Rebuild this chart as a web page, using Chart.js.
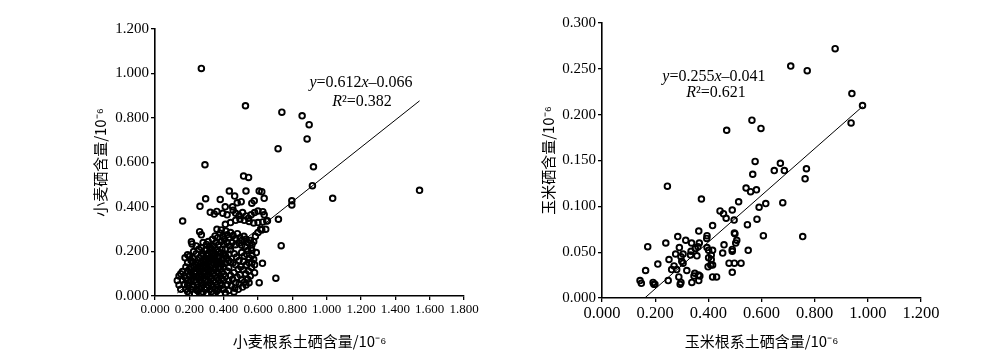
<!DOCTYPE html>
<html>
<head>
<meta charset="utf-8">
<script src="https://cdn.jsdelivr.net/npm/chart.js@4"></script>
<style>
  body { margin: 0; background: #fff; width: 1000px; height: 363px; overflow: hidden; position: relative; }
  canvas { position: absolute; top: 0; }
  #chart-wheat { left: 0; }
  #chart-corn { left: 500px; }
</style>
</head>
<body>
<canvas id="chart-wheat" width="500" height="363"></canvas>
<canvas id="chart-corn" width="500" height="363"></canvas>
<script>
// ─── Data: [root soil Se, grain Se] (10^-6) ────────────────────
const wheatOutliers = [
  [0.270,1.023],[0.291,0.590],[0.527,0.855],[0.739,0.826],[0.857,0.810],[0.898,0.770],[0.886,0.706],
  [0.717,0.662],[0.923,0.581],[0.917,0.496],[1.541,0.475],[1.035,0.439],[0.797,0.428],[0.797,0.409],
  [0.719,0.345],[0.735,0.226],[0.704,0.080],[0.607,0.060],[0.626,0.147],[0.651,0.337],[0.636,0.439],
  [0.622,0.469],[0.628,0.379],[0.636,0.365],[0.628,0.333],[0.622,0.297],[0.161,0.337],[0.295,0.437],
  [0.262,0.403]
];
const wheatUpper = [
  [0.516,0.539],[0.545,0.533],[0.433,0.472],[0.530,0.472],[0.607,0.472],[0.464,0.449],[0.380,0.434],
  [0.409,0.401],[0.452,0.401],[0.479,0.419],[0.502,0.424],[0.564,0.417],[0.578,0.428],[0.322,0.376],
  [0.345,0.368],[0.360,0.380],[0.395,0.372],[0.420,0.365],[0.455,0.385],[0.470,0.372],[0.490,0.362],
  [0.510,0.375],[0.530,0.360],[0.545,0.350],[0.560,0.365],[0.580,0.375],[0.600,0.382],[0.655,0.338],
  [0.600,0.330],[0.575,0.328],[0.548,0.335],[0.520,0.340],[0.495,0.345],[0.470,0.340],[0.440,0.330],
  [0.410,0.322],[0.361,0.300],[0.386,0.297],[0.413,0.292],[0.260,0.289],[0.270,0.275]
];
const wheatMid = [
  [0.212,0.244],[0.216,0.234],[0.240,0.225],[0.255,0.210],[0.280,0.240],[0.300,0.232],[0.318,0.222],
  [0.335,0.255],[0.350,0.270],[0.365,0.262],[0.380,0.282],[0.395,0.268],[0.405,0.255],[0.420,0.275],
  [0.430,0.262],[0.440,0.285],[0.455,0.272],[0.468,0.258],[0.480,0.280],[0.495,0.262],[0.505,0.250],
  [0.518,0.268],[0.530,0.255],[0.540,0.240],[0.555,0.250],[0.565,0.232],[0.575,0.245],[0.585,0.268],
  [0.600,0.285],[0.615,0.300],[0.645,0.300],[0.560,0.215],[0.540,0.205],[0.525,0.222],[0.505,0.228],
  [0.490,0.238],[0.470,0.230],[0.450,0.240],[0.435,0.225],[0.420,0.240],[0.400,0.232],[0.385,0.245],
  [0.370,0.230],[0.355,0.240],[0.340,0.225],[0.325,0.212],[0.310,0.245],[0.290,0.205],[0.270,0.218],
  [0.225,0.200],[0.190,0.185],[0.200,0.178],[0.175,0.172]
];
const wheatFlank = [
  [0.462,0.190],[0.475,0.175],[0.490,0.160],[0.505,0.195],[0.520,0.180],[0.535,0.188],[0.550,0.170],
  [0.565,0.182],[0.548,0.150],[0.532,0.140],[0.515,0.155],[0.500,0.132],[0.485,0.120],[0.470,0.140],
  [0.455,0.150],[0.562,0.128],[0.545,0.112],[0.528,0.100],[0.512,0.118],[0.495,0.095],[0.478,0.085],
  [0.460,0.105],[0.555,0.090],[0.540,0.075],[0.520,0.062],[0.505,0.072],[0.490,0.055],[0.470,0.060],
  [0.452,0.075],[0.445,0.045],[0.465,0.035],[0.485,0.030],[0.510,0.040],[0.530,0.050],[0.548,0.060],
  [0.565,0.150],[0.565,0.205],[0.575,0.165],[0.580,0.140],[0.580,0.105],[0.590,0.195],[0.460,0.018],
  [0.430,0.025],[0.410,0.015],[0.395,0.030]
];
const wheatCore = [
  [0.20,0.010],[0.23,0.010],[0.27,0.012],[0.30,0.010],[0.34,0.012],[0.38,0.010],
  [0.15,0.030],[0.18,0.032],[0.21,0.030],[0.24,0.028],[0.26,0.032],[0.29,0.030],[0.32,0.028],[0.35,0.032],[0.37,0.030],[0.40,0.030],
  [0.14,0.050],[0.17,0.052],[0.19,0.048],[0.22,0.050],[0.25,0.052],[0.28,0.050],[0.31,0.048],[0.33,0.052],[0.36,0.050],[0.39,0.048],[0.42,0.052],
  [0.13,0.070],[0.16,0.072],[0.19,0.070],[0.21,0.068],[0.23,0.072],[0.26,0.070],[0.29,0.068],[0.30,0.074],[0.34,0.070],[0.37,0.072],[0.40,0.070],[0.43,0.068],
  [0.14,0.090],[0.17,0.088],[0.20,0.092],[0.22,0.090],[0.24,0.088],[0.27,0.092],[0.30,0.090],[0.32,0.088],[0.35,0.092],[0.38,0.090],[0.41,0.088],[0.44,0.092],
  [0.16,0.110],[0.19,0.112],[0.21,0.108],[0.24,0.110],[0.26,0.112],[0.28,0.110],[0.31,0.108],[0.33,0.112],[0.36,0.110],[0.39,0.108],[0.42,0.112],
  [0.18,0.130],[0.21,0.128],[0.23,0.132],[0.25,0.130],[0.28,0.128],[0.30,0.132],[0.32,0.130],[0.35,0.128],[0.37,0.132],[0.40,0.130],[0.43,0.128],
  [0.19,0.150],[0.22,0.152],[0.25,0.148],[0.27,0.150],[0.29,0.152],[0.31,0.150],[0.34,0.148],[0.36,0.152],[0.38,0.150],[0.41,0.148],[0.44,0.152],
  [0.22,0.170],[0.26,0.172],[0.29,0.168],[0.31,0.170],[0.33,0.172],[0.35,0.168],[0.37,0.170],[0.40,0.172],[0.42,0.168],
  [0.24,0.190],[0.28,0.188],[0.31,0.192],[0.33,0.190],[0.35,0.188],[0.38,0.192],[0.40,0.190],[0.43,0.188],
  [0.30,0.210],[0.33,0.212],[0.36,0.208],[0.39,0.210],[0.41,0.212],[0.44,0.208],
  [0.19,0.020],[0.25,0.022],[0.28,0.018],[0.33,0.020],[0.36,0.022],
  [0.20,0.060],[0.24,0.062],[0.27,0.058],[0.32,0.060],[0.35,0.062],[0.38,0.058],
  [0.18,0.080],[0.25,0.082],[0.28,0.078],[0.33,0.080],[0.36,0.082],[0.39,0.078],
  [0.15,0.100],[0.23,0.102],[0.29,0.098],[0.34,0.100],[0.37,0.102],[0.40,0.098],
  [0.20,0.120],[0.27,0.122],[0.32,0.118],[0.35,0.120],[0.38,0.122],
  [0.24,0.140],[0.29,0.142],[0.33,0.138],[0.36,0.140],[0.39,0.142],
  [0.21,0.160],[0.28,0.162],[0.32,0.158],[0.35,0.160],[0.39,0.162],[0.43,0.158],
  [0.27,0.180],[0.30,0.182],[0.34,0.178],[0.37,0.180],[0.41,0.182],
  [0.22,0.040],[0.27,0.042],[0.30,0.038],[0.23,0.100],[0.26,0.085],[0.31,0.095],
  [0.26,0.135],[0.31,0.120],[0.30,0.160],[0.34,0.195],[0.37,0.200],[0.39,0.160]
];
const wheatPoints = [...wheatOutliers, ...wheatUpper, ...wheatMid, ...wheatFlank, ...wheatCore];
const wheatFit = [0.612, -0.066];      // slope, intercept
const wheatFitRange = [0.13, 1.541];

const cornPoints = [
  [0.877,0.272],[0.710,0.253],[0.772,0.248],[0.940,0.223],[0.980,0.210],[0.937,0.191],[0.564,0.194],
  [0.598,0.185],[0.469,0.183],[0.576,0.149],[0.671,0.147],[0.648,0.139],[0.686,0.139],[0.567,0.135],
  [0.769,0.141],[0.764,0.130],[0.542,0.120],[0.559,0.116],[0.581,0.118],[0.246,0.122],[0.374,0.108],
  [0.514,0.105],[0.680,0.104],[0.616,0.103],[0.591,0.099],[0.444,0.095],[0.457,0.092],[0.467,0.087],
  [0.490,0.096],[0.497,0.085],[0.583,0.086],[0.416,0.079],[0.547,0.080],[0.364,0.073],[0.395,0.068],
  [0.394,0.065],[0.607,0.068],[0.755,0.067],[0.498,0.071],[0.500,0.070],[0.507,0.063],[0.285,0.067],
  [0.240,0.060],[0.315,0.063],[0.337,0.060],[0.366,0.060],[0.361,0.056],[0.172,0.056],[0.291,0.055],
  [0.351,0.054],[0.335,0.051],[0.395,0.055],[0.401,0.052],[0.416,0.052],[0.459,0.058],[0.490,0.053],
  [0.503,0.060],[0.277,0.048],[0.305,0.048],[0.357,0.046],[0.333,0.047],[0.411,0.047],[0.411,0.042],
  [0.454,0.049],[0.490,0.051],[0.550,0.052],[0.252,0.042],[0.297,0.045],[0.210,0.037],[0.305,0.038],
  [0.300,0.040],[0.401,0.044],[0.409,0.036],[0.399,0.034],[0.416,0.036],[0.478,0.038],[0.498,0.038],
  [0.523,0.038],[0.164,0.030],[0.271,0.035],[0.262,0.031],[0.281,0.031],[0.319,0.030],[0.349,0.027],
  [0.363,0.025],[0.368,0.024],[0.416,0.023],[0.431,0.023],[0.490,0.028],[0.143,0.019],[0.148,0.016],
  [0.192,0.017],[0.199,0.015],[0.249,0.019],[0.289,0.023],[0.294,0.015],[0.297,0.017],[0.338,0.017],
  [0.364,0.019],[0.195,0.015],[0.346,0.024]
];
const cornFit = [0.255, -0.041];
const cornFitRange = [0.161, 0.980];

const wheatTicksX = [0, 1.8, 0.2];
const wheatTicksY = [0, 1.2, 0.2];
const cornTicksX = [0, 1.2, 0.2];
const cornTicksY = [0, 0.3, 0.05];

const SERIF = "'Liberation Serif', 'Times New Roman', serif";
const CJK = "'Noto Sans CJK SC', sans-serif";

// Regression equation labels drawn on top of the plot
const eqnPlugin = {
  id: 'eqn',
  afterDatasetsDraw(chart, args, opts) {
    if (!opts.lines) return;
    const ctx = chart.ctx;
    const xs = chart.scales.x, ys = chart.scales.y;
    ctx.save();
    ctx.fillStyle = '#000';
    ctx.textBaseline = 'middle';
    opts.lines.forEach(line => {
      let w = 0;
      line.parts.forEach(p => {
        ctx.font = (p.i ? 'italic ' : '') + '16px ' + SERIF;
        p.w = ctx.measureText(p.t).width;
        w += p.w;
      });
      let x = xs.getPixelForValue(line.x) - w / 2;
      const y = ys.getPixelForValue(line.y);
      line.parts.forEach(p => {
        ctx.font = (p.i ? 'italic ' : '') + '16px ' + SERIF;
        ctx.fillText(p.t, x, y);
        x += p.w;
      });
    });
    ctx.restore();
  }
};

function fitLine(fit, range) {
  return range.map(x => ({ x, y: fit[0] * x + fit[1] }));
}

function axis(ticksDef, title, tickSize, fixedSize, titlePad) {
  return {
    type: 'linear',
    min: ticksDef[0], max: ticksDef[1],
    border: { color: '#000', width: 1.6 },
    grid: { drawOnChartArea: false, drawTicks: true, tickLength: 4, color: '#000', lineWidth: 1.3 },
    ticks: {
      stepSize: ticksDef[2], color: '#000', padding: 2, autoSkip: false, maxRotation: 0,
      font: { family: SERIF, size: tickSize },
      callback: v => Number(v).toFixed(3)
    },
    title: { display: true, text: title, color: '#000', font: { family: CJK, size: 15 }, padding: titlePad },
    afterFit: s => { if (s.isHorizontal()) s.height = fixedSize; else s.width = fixedSize; }
  };
}

function makeChart(id, pts, fit, range, cfg) {
  return new Chart(document.getElementById(id), {
    type: 'scatter',
    data: {
      datasets: [
        {
          data: pts.map(p => ({ x: p[0], y: p[1] })),
          pointStyle: 'circle', pointRadius: 2.8, pointBorderWidth: 1.9,
          pointBorderColor: '#000', pointBackgroundColor: 'rgba(0,0,0,0)'
        },
        {
          data: fitLine(fit, range), showLine: true, pointRadius: 0,
          borderColor: '#000', borderWidth: 1
        }
      ]
    },
    options: {
      responsive: false, animation: false,
      layout: { padding: cfg.padding },
      plugins: { legend: { display: false }, tooltip: { enabled: false }, eqn: { lines: cfg.eqn } },
      scales: { x: cfg.x, y: cfg.y }
    },
    plugins: [eqnPlugin]
  });
}

makeChart('chart-wheat', wheatPoints, wheatFit, wheatFitRange, {
  padding: { left: 0, top: 29, right: 36, bottom: 0 },
  x: axis(wheatTicksX, '小麦根系土硒含量/10⁻⁶', 13, 67, { top: 0, bottom: 13 }),
  y: axis(wheatTicksY, '小麦硒含量/10⁻⁶', 15, 155, { top: 91, bottom: 0 }),
  eqn: [
    { x: 1.2, y: 0.957, parts: [{ t: 'y', i: true }, { t: '=0.612' }, { t: 'x', i: true }, { t: '–0.066' }] },
    { x: 1.206, y: 0.872, parts: [{ t: 'R', i: true }, { t: '²=0.382' }] }
  ]
});

makeChart('chart-corn', cornPoints, cornFit, cornFitRange, {
  padding: { left: 0, top: 23, right: 79, bottom: 0 },
  x: axis(cornTicksX, '玉米根系土硒含量/10⁻⁶', 16.5, 65, { top: 0, bottom: 13 }),
  y: axis(cornTicksY, '玉米硒含量/10⁻⁶', 15, 102, { top: 39, bottom: 0 }),
  eqn: [
    { x: 0.421, y: 0.241, parts: [{ t: 'y', i: true }, { t: '=0.255' }, { t: 'x', i: true }, { t: '–0.041' }] },
    { x: 0.429, y: 0.224, parts: [{ t: 'R', i: true }, { t: '²=0.621' }] }
  ]
});
</script>
</body>
</html>
